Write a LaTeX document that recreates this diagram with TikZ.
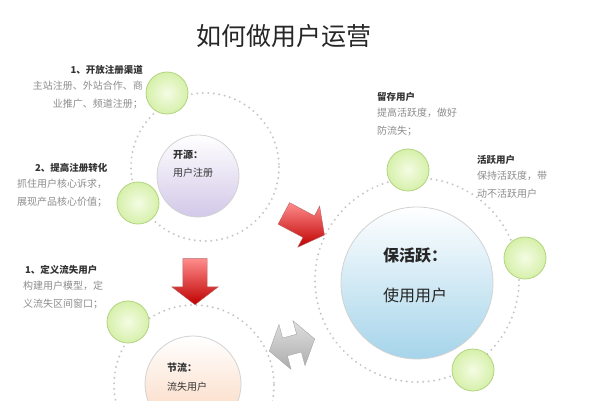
\documentclass[tikz,border=0pt]{standalone}
\usepackage{fontspec}
\setmainfont{Noto Sans CJK SC}
\usetikzlibrary{positioning,shapes.arrows}
\definecolor{leafin}{RGB}{244,252,228}
\definecolor{leafout}{RGB}{214,240,170}
\definecolor{leafrim}{RGB}{178,212,128}
\definecolor{notegray}{RGB}{140,140,140}
\definecolor{lilac}{RGB}{210,200,232}
\definecolor{skyblue}{RGB}{165,212,234}
\definecolor{peach}{RGB}{250,212,186}

\begin{document}
\begin{tikzpicture}[x=1pt,y=-1pt,
    ring/.style={draw=gray!45, line width=2.2pt, line cap=round, dash pattern=on 0pt off 5.5pt},
    leaf/.style={circle, minimum size=42pt, inner sep=0pt, draw=leafrim, thick, inner color=leafin, outer color=leafout},
    hub/.style={circle, inner sep=0pt, draw=gray!35, thick, top color=white},
    head/.style={font=\bfseries\fontsize{9.5}{12}\selectfont, text=black!80, inner sep=0pt},
    note/.style={font=\fontsize{10}{18}\selectfont, text=notegray, inner sep=0pt},
    redarrow/.style={single arrow, draw=red!50!black!60, top color=red!45, bottom color=red!75!black,
        inner xsep=0pt, inner ysep=12pt, single arrow head extend=11pt, single arrow tip angle=105, minimum height=46pt},
    grayarrow/.style={double arrow, draw=gray!70, top color=gray!25, bottom color=gray!65,
        inner xsep=0pt, inner ysep=9pt, double arrow head extend=14pt, double arrow tip angle=110, minimum height=47pt}]
    \clip (0,0) rectangle (600,400);
    % title
    \node[font=\fontsize{25}{30}\selectfont, text=black!85] (title) at (284,36) {如何做用户运营};
    % dotted rings
    \coordinate (c1) at (205,167);
    \coordinate (c2) at (417,280);
    \coordinate (c3) at (194,385);
    \draw[ring] (c1) circle[radius=74];
    \draw[ring] (c2) circle[radius=102];
    \draw[ring] (c3) circle[radius=80];
    % hubs
    \node[hub, minimum size=82pt, bottom color=lilac] (src) at (198,176) {};
    \node[hub, minimum size=152pt, bottom color=skyblue] (act) at (417,283) {};
    \node[hub, minimum size=96pt, bottom color=peach] (flow) at (193,384) {};
    % small circles
    \node[leaf] (g1) at (167,93) {};
    \node[leaf] (g2) at (138,203) {};
    \node[leaf] (g3) at (408,170) {};
    \node[leaf] (g4) at (525,258) {};
    \node[leaf] (g5) at (473,370) {};
    \node[leaf] (g6) at (128,322) {};
    % block arrows
    \node[redarrow, rotate=-28] (a1) at (300,222) {};
    \node[redarrow, rotate=-90] (a2) at (195,277) {};
    \node[grayarrow, rotate=15] (a3) at (292,345) {};
    % hub labels
    \node[font=\fontsize{10}{18}\selectfont, text=black!80, align=left, anchor=west, inner sep=0pt] (l1) at (173,164) {\textbf{开源：}\\用户注册};
    \node[font=\fontsize{16}{40}\selectfont, text=black!85, align=center, inner sep=0pt] (l2) at (415,275) {\textbf{保活跃：}\\使用用户};
    \node[font=\fontsize{10}{19}\selectfont, text=black!80, align=left, anchor=west, inner sep=0pt] (l3) at (167,377) {\textbf{节流：}\\流失用户};
    % notes
    \node[head, anchor=east] (h1) at (143,70) {1、开放注册渠道};
    \node[note, align=right, below left=6pt and 0pt of h1.south east] (b1) {主站注册、外站合作、商\\业推广、频道注册；};
    \node[head, anchor=west] (h2) at (35,168) {2、提高注册转化};
    \node[note, align=left, below right=6pt and -18pt of h2.south west] (b2) {抓住用户核心诉求，\\展现产品核心价值；};
    \node[head, anchor=west] (h3) at (25,270) {1、定义流失用户};
    \node[note, align=left, below right=6pt and -2pt of h3.south west] (b3) {构建用户模型，定\\义流失区间窗口；};
    \node[head, anchor=west] (h4) at (377,97) {留存用户};
    \node[note, align=left, below right=6pt and 0pt of h4.south west] (b4) {提高活跃度，做好\\防流失；};
    \node[head, anchor=west] (h5) at (477,160) {活跃用户};
    \node[note, align=left, below right=6pt and 0pt of h5.south west] (b5) {保持活跃度，带\\动不活跃用户};
\end{tikzpicture}
\end{document}
